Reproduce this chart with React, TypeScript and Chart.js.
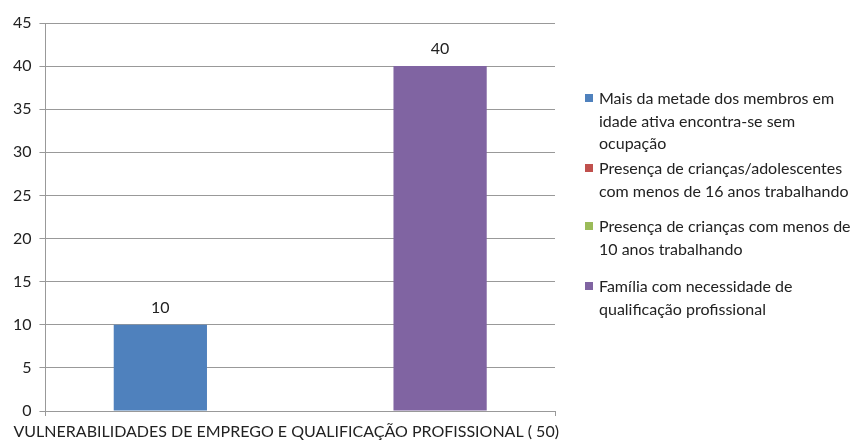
import React, { useEffect, useRef } from "react";
import { Chart, registerables } from "chart.js";

Chart.register(...registerables);

const categories = ["VULNERABILIDADES DE EMPREGO E QUALIFICAÇÃO PROFISSIONAL ( 50)"];
const seriesNames = [
  ["Mais da metade dos membros em", "idade ativa encontra-se sem", "ocupação"],
  ["Presença de crianças/adolescentes", "com menos de 16 anos trabalhando"],
  ["Presença de crianças com menos de", "10 anos trabalhando"],
  ["Família com necessidade de", "qualificação profissional"],
];
const seriesValues = [[10], [0], [0], [40]];
const seriesColors = ["#4F81BD", "#C0504D", "#9BBB59", "#8064A2"];
const legendTops = [87, 157, 215, 275];

const FONT = "Lato, 'Liberation Sans', sans-serif";

export default function App() {
  const ref = useRef<HTMLCanvasElement | null>(null);
  useEffect(() => {
    if (!ref.current) return;
    const labelPlugin = {
      id: "valueLabels",
      afterDatasetsDraw(chart: any) {
        const ctx = chart.ctx;
        ctx.save();
        ctx.font = `16px ${FONT}`;
        ctx.fillStyle = "#222";
        ctx.textAlign = "center";
        ctx.textBaseline = "middle";
        chart.data.datasets.forEach((ds: any, i: number) => {
          const meta = chart.getDatasetMeta(i);
          meta.data.forEach((bar: any, j: number) => {
            const v = ds.data[j];
            if (!v) return;
            ctx.fillText(String(v), bar.x, bar.y - 17);
          });
        });
        ctx.restore();
      },
    };
    const chart = new Chart(ref.current, {
      type: "bar",
      data: {
        labels: categories,
        datasets: seriesNames.map((n, i) => ({
          label: n.join(" "),
          data: seriesValues[i],
          backgroundColor: seriesColors[i],
          borderWidth: 0,
          barPercentage: 1,
          categoryPercentage: 0.732,
        })),
      },
      options: {
        animation: false,
        responsive: false,
        maintainAspectRatio: false,
        layout: { padding: { left: 0, top: 23, right: 301, bottom: 0 } },
        plugins: { legend: { display: false }, tooltip: { enabled: false } },
        scales: {
          x: {
            grid: {
              drawOnChartArea: false,
              drawTicks: true,
              tickLength: 5,
              color: "#999",
            },
            border: { color: "#999" },
            ticks: {
              font: { family: FONT, size: 16 },
              color: "#222",
              labelOffset: -14,
              padding: 6,
              maxRotation: 0,
              autoSkip: false,
            },
            afterFit(scale: any) {
              scale.height = 30;
            },
          },
          y: {
            min: 0,
            max: 45,
            ticks: {
              stepSize: 5,
              font: { family: FONT, size: 16 },
              color: "#222",
              padding: 8,
            },
            grid: { color: "#999", tickLength: 6 },
            border: { color: "#999" },
            afterFit(scale: any) {
              scale.width = 43;
            },
          },
        },
      },
      plugins: [labelPlugin],
    });
    return () => chart.destroy();
  }, []);

  return (
    <div style={{ position: "fixed", left: 0, top: 0, width: 856, height: 441, background: "#fff" }}>
      <canvas ref={ref} width={856} height={441} style={{ position: "absolute", left: 0, top: 0 }} />
      {seriesNames.map((lines, i) => (
        <div
          key={i}
          style={{
            position: "absolute",
            left: 585,
            top: legendTops[i],
            fontFamily: FONT,
            fontSize: 16,
            lineHeight: "22.5px",
            color: "#222",
            whiteSpace: "nowrap",
          }}
        >
          <span
            style={{
              position: "absolute",
              left: 0,
              top: 7,
              width: 8,
              height: 8,
              background: seriesColors[i],
            }}
          />
          <div style={{ marginLeft: 14 }}>
            {lines.map((l, k) => (
              <div key={k}>{l}</div>
            ))}
          </div>
        </div>
      ))}
    </div>
  );
}
